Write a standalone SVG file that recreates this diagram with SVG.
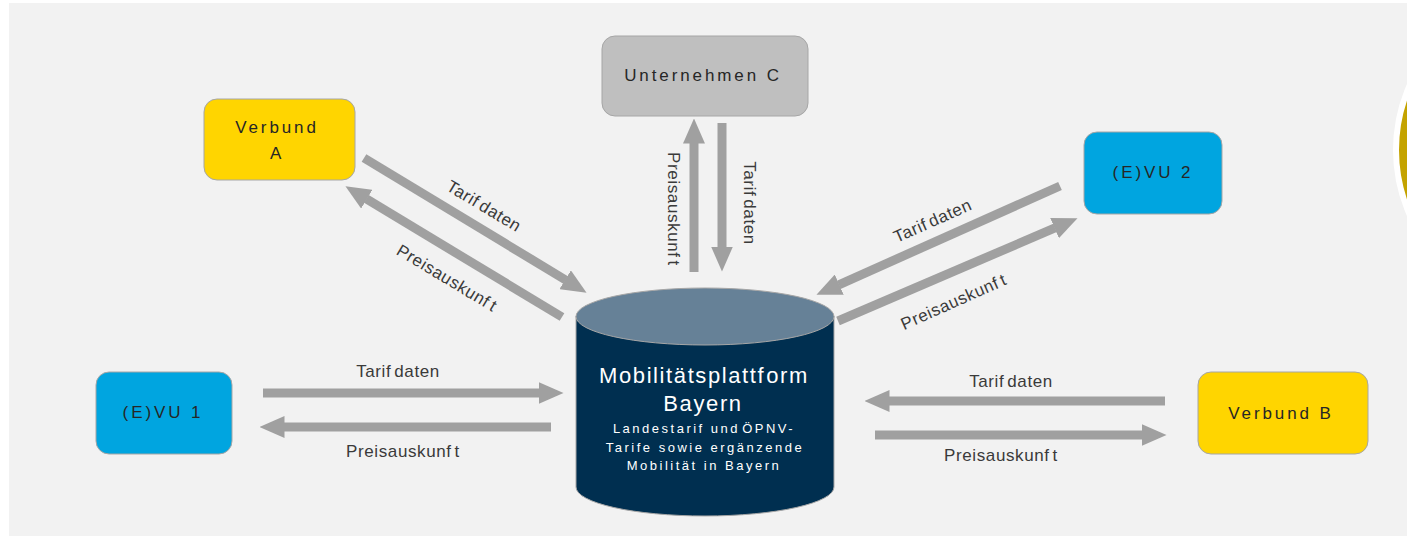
<svg xmlns="http://www.w3.org/2000/svg" width="1407" height="536" viewBox="0 0 1407 536">
<style>
.bg{fill:#fff}
.panel{fill:#f2f2f2}
.box{stroke:#a6a6a6;stroke-width:1}
.yellow{fill:#ffd500}
.blue{fill:#00a5e0}
.gray{fill:#bfbfbf}
.conn{stroke:#a0a0a0;stroke-width:9;fill:none;marker-end:url(#head)}
text{font-family:"Liberation Sans",Arial,sans-serif}
.n{font-size:17px;letter-spacing:2.9px;fill:#262626;text-anchor:middle}
.l{font-size:17px;letter-spacing:.6px;fill:#3a3a3a;text-anchor:middle}
.t1{font-size:22px;letter-spacing:1.6px;fill:#fff;text-anchor:middle}
.t2{font-size:13px;letter-spacing:2.5px;fill:#fff;text-anchor:middle}
</style>
<defs>
<marker id="head" viewBox="0 0 25 22" refX="0.5" refY="11" markerUnits="userSpaceOnUse" markerWidth="25" markerHeight="22" orient="auto"><polygon points="0,0 25,11 0,22" fill="#a0a0a0"/></marker>
</defs>
<rect class="bg" width="1407" height="536"/>
<rect class="panel" x="9" y="3" width="1398" height="533"/>
<circle cx="1556" cy="150" r="160" fill="#c4a300" stroke="#fff" stroke-width="6"/>
<g id="connectors">
<line class="conn" x1="364" y1="158" x2="565.6" y2="280"/>
<line class="conn" x1="562" y1="317" x2="366.4" y2="198.9"/>
<line class="conn" x1="694" y1="272" x2="694" y2="143"/>
<line class="conn" x1="722" y1="123" x2="722" y2="247"/>
<line class="conn" x1="1060" y1="186" x2="838.8" y2="284.8"/>
<line class="conn" x1="838" y1="321" x2="1055" y2="227.9"/>
<line class="conn" x1="263" y1="393" x2="539" y2="393"/>
<line class="conn" x1="551" y1="427" x2="284" y2="427"/>
<line class="conn" x1="1165" y1="401" x2="889" y2="401"/>
<line class="conn" x1="875" y1="435" x2="1142" y2="435"/>
</g>
<g id="labels">
<text class="l" transform="translate(481 211) rotate(31)">Tarif<tspan dx="3">daten</tspan></text>
<text class="l" transform="translate(444 283) rotate(31)">Preisauskunf<tspan dx="3">t</tspan></text>
<text class="l" transform="translate(668 209) rotate(90)">Preisauskunf<tspan dx="3">t</tspan></text>
<text class="l" transform="translate(744 203) rotate(90)">Tarif<tspan dx="3">daten</tspan></text>
<text class="l" transform="translate(935 226) rotate(-24)">Tarif<tspan dx="3">daten</tspan></text>
<text class="l" transform="translate(956 307) rotate(-24)">Preisauskunf<tspan dx="3">t</tspan></text>
<text class="l" x="398" y="377">Tarif<tspan dx="3">daten</tspan></text>
<text class="l" x="403" y="457">Preisauskunf<tspan dx="3">t</tspan></text>
<text class="l" x="1011" y="387">Tarif<tspan dx="3">daten</tspan></text>
<text class="l" x="1001" y="461">Preisauskunf<tspan dx="3">t</tspan></text>
</g>
<g id="verbund-a">
<rect class="box yellow" x="204" y="99" width="151" height="81" rx="13"/>
<text class="n" x="277" y="133">Verbund</text>
<text class="n" x="277" y="159">A</text>
</g>
<g id="unternehmen-c">
<rect class="box gray" x="602" y="36" width="206" height="80" rx="13"/>
<text class="n" x="703" y="81">Unternehmen C</text>
</g>
<g id="evu-2">
<rect class="box blue" x="1084" y="132" width="138" height="82" rx="13"/>
<text class="n" x="1153" y="178">(E)VU 2</text>
</g>
<g id="evu-1">
<rect class="box blue" x="96" y="372" width="136" height="82" rx="13"/>
<text class="n" x="163" y="418">(E)VU 1</text>
</g>
<g id="verbund-b">
<rect class="box yellow" x="1198" y="372" width="170" height="82" rx="13"/>
<text class="n" x="1281" y="419">Verbund B</text>
</g>
<g id="plattform">
<path d="M576 316V487A129 29 0 0 0 834 487V316Z" fill="#002f50" stroke="#a6a6a6" stroke-width="1"/>
<ellipse cx="705" cy="316.500" rx="129" ry="28.500" fill="#668197" stroke="#a6a6a6" stroke-width="1"/>
<text class="t1" x="704" y="383">Mobilitätsplattf<tspan dx="1">orm</tspan></text>
<text class="t1" x="703" y="411">Bayern</text>
<text class="t2" x="704" y="433">Landestarif und<tspan dx="-4"> ÖPNV-</tspan></text>
<text class="t2" x="705" y="452">Tarife sowie ergänzende</text>
<text class="t2" x="704" y="470">Mobilität in Bayern</text>
</g>
</svg>
